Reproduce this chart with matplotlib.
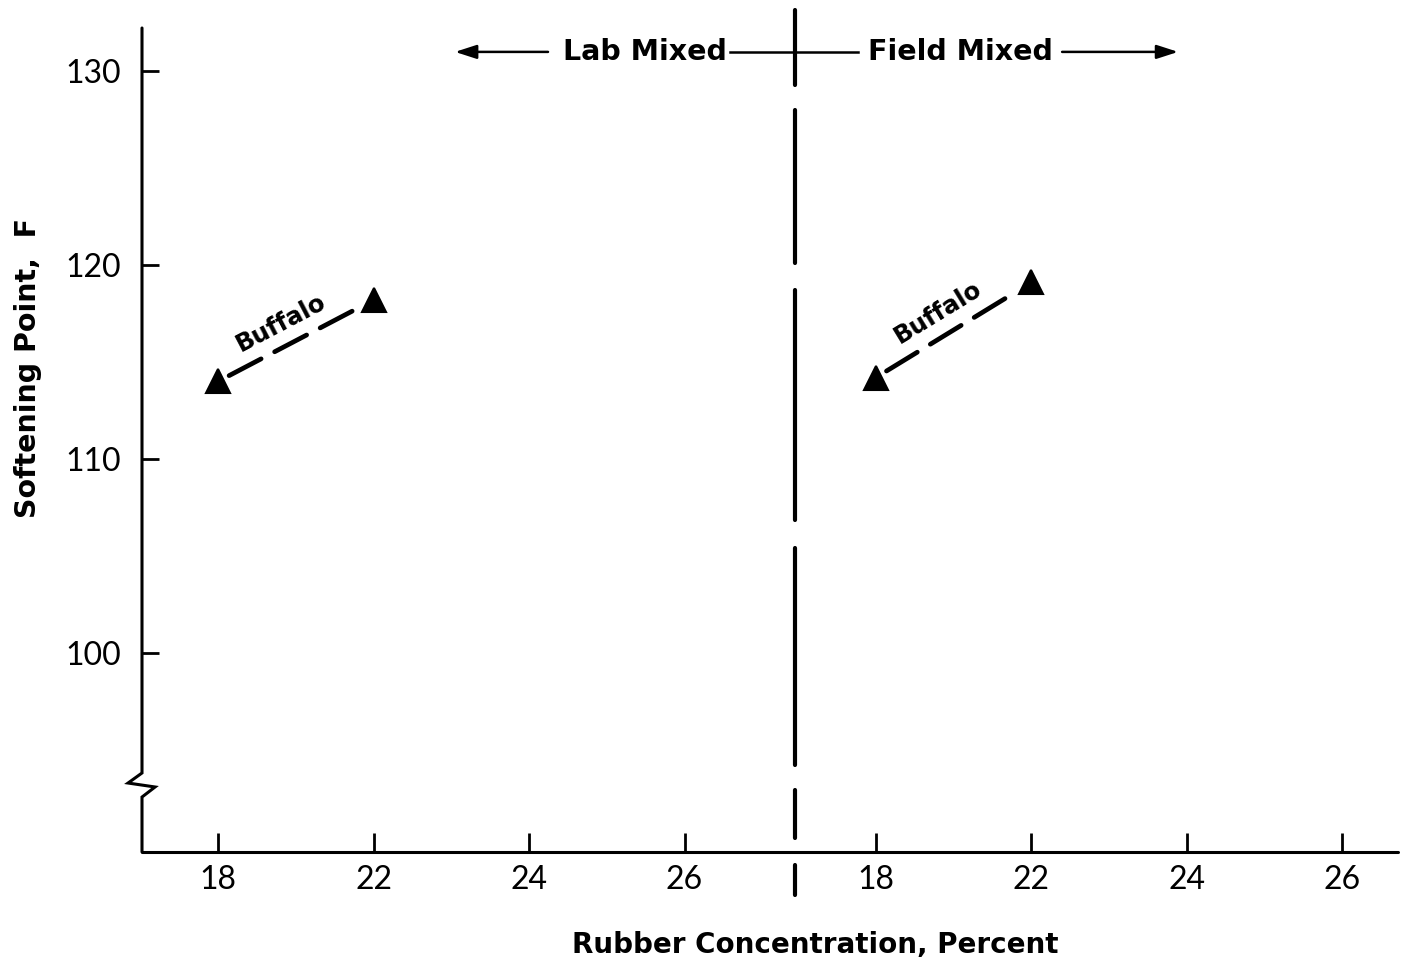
import matplotlib
matplotlib.use("Agg")
import matplotlib.pyplot as plt
from matplotlib.transforms import blended_transform_factory
import numpy as np

plt.rcParams['font.family'] = ['Lato', 'DejaVu Sans']
plt.rcParams['lines.scale_dashes'] = False
BOLD = dict(family=['DejaVu Sans'], fontweight="bold")

# ---- data -------------------------------------------------------------
concentrations = [18, 22, 24, 26]            # tick labels in each panel
lab_concentration = [18, 22]
lab_softening = [114.0, 118.2]
field_concentration = [18, 22]
field_softening = [114.2, 119.1]
y_ticks = [100, 110, 120, 130]
panel_names = ["Lab Mixed", "Field Mixed"]
series_name = "Buffalo"

# ---- layout -------------------------------------------------------------
SLOT = {c: i for i, c in enumerate(concentrations)}   # evenly spaced slots
PANEL_START = [0.0, 4.23]                              # first slot of each panel
SEP_X = 3.71                                           # panel divider

fig = plt.figure(figsize=(14.05, 9.72), dpi=100)
ax = fig.add_axes([142 / 1405, 120 / 972, 1256 / 1405, 824 / 972])
ax.set_xlim(-0.489, 7.588)
ax.set_ylim(89.74, 132.22)

for s in ("top", "right", "left"):
    ax.spines[s].set_visible(False)
ax.spines["bottom"].set_linewidth(2.2)
ax.spines["bottom"].set_capstyle("round")

# x ticks: both panels
xt, xl = [], []
for start in PANEL_START:
    for c in concentrations:
        xt.append(start + SLOT[c])
        xl.append(str(c))
ax.set_xticks(xt, xl)
ax.set_yticks(y_ticks, [str(v) for v in y_ticks])
ax.tick_params(axis="x", direction="in", length=13.5, width=2.0,
               labelsize=23, pad=9)
ax.tick_params(axis="y", direction="in", length=12, width=2.0,
               labelsize=23, pad=15)

# left axis with a break near the bottom
axes_tr = ax.transAxes
bx = [0, 0, -0.0111, 0.0104, 0, 0]
by = [1.0, 0.0959, 0.0837, 0.0789, 0.0667, 0.0]
ax.plot(bx, by, transform=axes_tr, color="black", lw=2.2,
        solid_joinstyle="miter", solid_capstyle="round", clip_on=False)

# dashed divider between the two panels
bt = blended_transform_factory(ax.transData, ax.transAxes)
sep_segments = [(1.0218, 0.931), (0.9005, 0.7148), (0.682, 0.403),
                (0.369, 0.1056), (0.0752, 0.017), (-0.0158, -0.0522)]
for y0, y1 in sep_segments:
    ax.plot([SEP_X, SEP_X], [y0, y1], transform=bt, color="black", lw=3.0,
            solid_capstyle="round", clip_on=False)

# panel header with arrows
hy = 0.971
ax.plot([3.293, 4.116], [hy, hy], transform=bt, color="black", lw=1.8,
        clip_on=False)
arrow_kw = dict(arrowstyle="-|>,head_length=1.3,head_width=0.42",
                color="black", lw=1.8, shrinkA=0, shrinkB=0)
ax.annotate("", xy=(1.524, hy), xytext=(2.122, hy), xycoords=bt,
            textcoords=bt, arrowprops=arrow_kw, annotation_clip=False)
ax.annotate("", xy=(6.174, hy), xytext=(5.428, hy), xycoords=bt,
            textcoords=bt, arrowprops=arrow_kw, annotation_clip=False)
ax.text(2.746, hy, panel_names[0], transform=bt, ha="center", va="center",
        fontsize=20.5, clip_on=False, **BOLD)
ax.text(4.772, hy, panel_names[1], transform=bt, ha="center", va="center",
        fontsize=20.5, clip_on=False, **BOLD)

# data series, one per panel
for start, conc, soft in ((PANEL_START[0], lab_concentration, lab_softening),
                          (PANEL_START[1], field_concentration, field_softening)):
    xs = [start + SLOT[c] for c in conc]
    ax.plot(xs, soft, linestyle="none", marker="^", markersize=17,
            color="black", markeredgecolor="black", markeredgewidth=1.5)
    ax.annotate("", xy=(xs[1], soft[1]), xytext=(xs[0], soft[0]),
                arrowprops=dict(arrowstyle="-", color="black", lw=3.4,
                                linestyle=(0, (26, 11)), capstyle="round",
                                shrinkA=9, shrinkB=15))
    # label along the segment
    p0 = ax.transData.transform((xs[0], soft[0]))
    p1 = ax.transData.transform((xs[1], soft[1]))
    ang = np.degrees(np.arctan2(p1[1] - p0[1], p1[0] - p0[0]))
    mx, my = (xs[0] + xs[1]) / 2, (soft[0] + soft[1]) / 2
    ax.annotate(series_name, xy=(mx, my), xytext=(-11, 12.5),
                textcoords="offset points", ha="center", va="center",
                rotation=ang, rotation_mode="anchor", fontsize=17.5, **BOLD)

fig.text(815 / 1405, 1 - 945 / 972, "Rubber Concentration, Percent",
         ha="center", va="center", fontsize=20, **BOLD)
fig.text(28 / 1405, 1 - 368 / 972, "Softening Point,  F", rotation=90,
         ha="center", va="center", fontsize=20.5, **BOLD)

fig.savefig("out.png", dpi=100)
